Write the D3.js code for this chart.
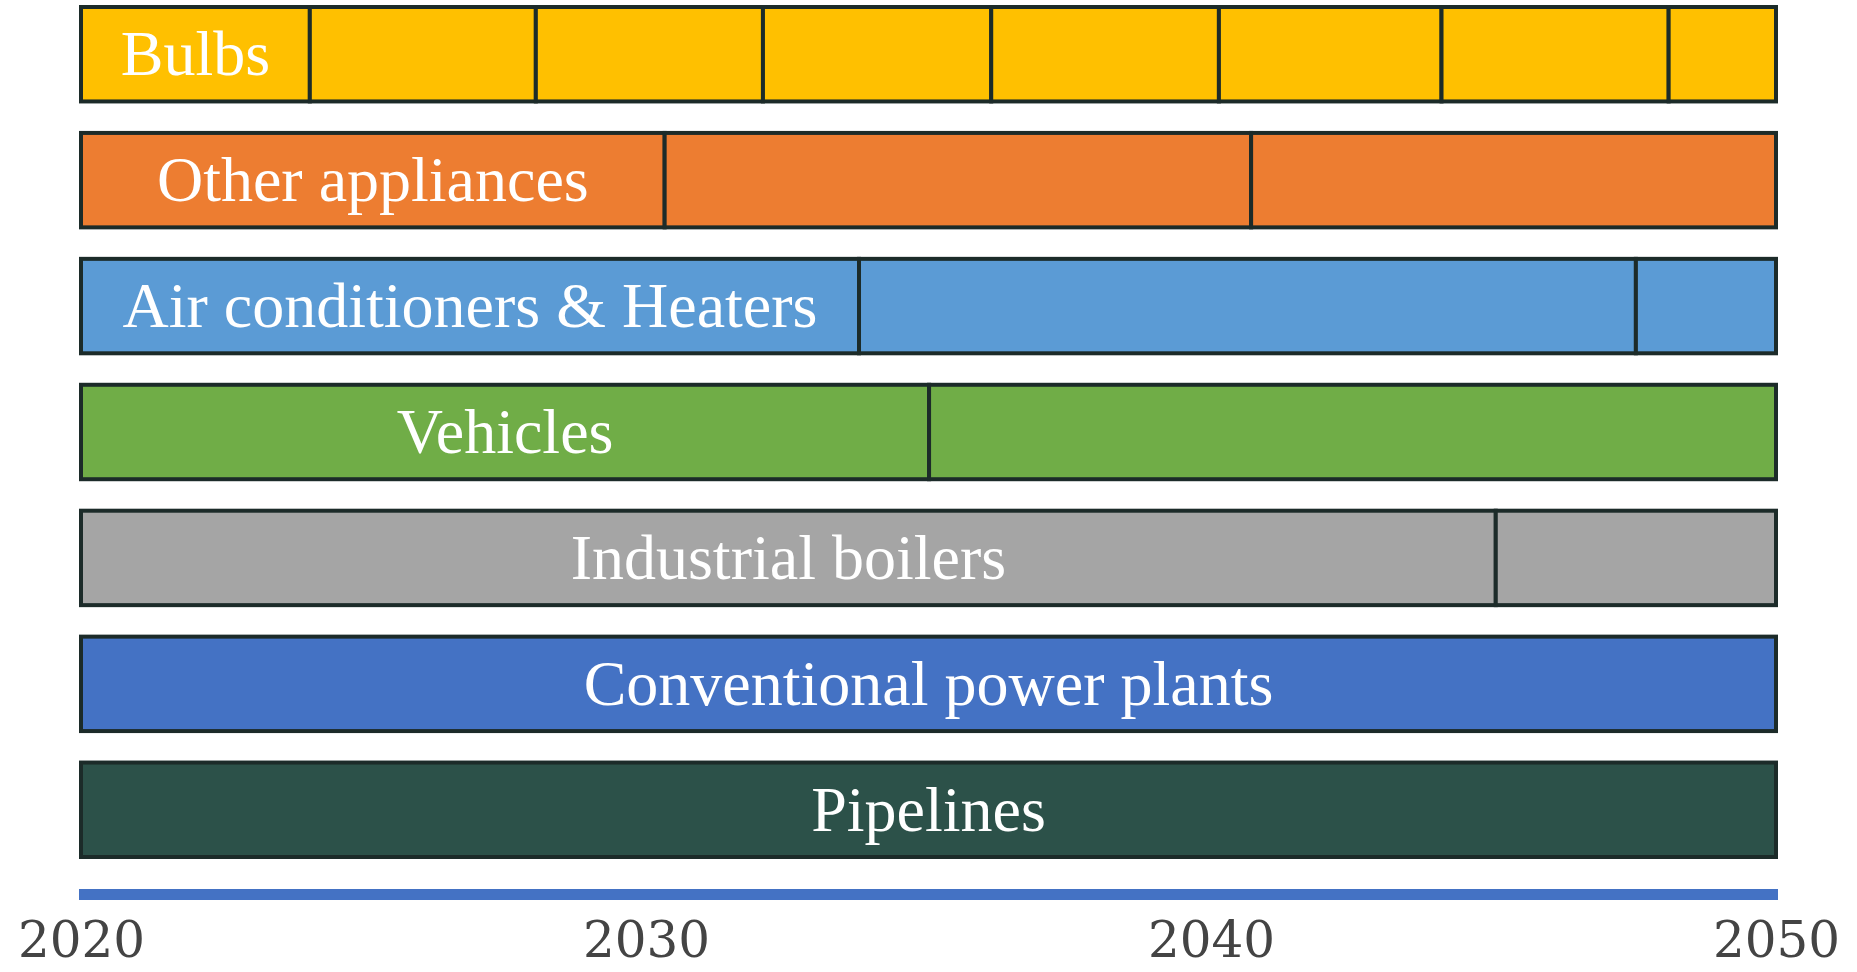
<!DOCTYPE html>
<html>
<head>
<meta charset="utf-8">
<script src="https://cdn.jsdelivr.net/npm/d3@7/dist/d3.min.js"></script>
<style>
  html, body { margin: 0; padding: 0; background: #ffffff; }
  svg { display: block; }
</style>
</head>
<body>
<svg id="chart" width="1857" height="972"></svg>
<script>
// Equipment categories, top to bottom
const categories = [
  "Bulbs",
  "Other appliances",
  "Air conditioners & Heaters",
  "Vehicles",
  "Industrial boilers",
  "Conventional power plants",
  "Pipelines"
];

// Years at which each stock is replaced (segment boundaries inside 2020–2050)
const bulbsReplacements      = [2024.05, 2028.05, 2032.07, 2036.11, 2040.14, 2044.08, 2048.1];
const appliancesReplacements = [2030.33, 2040.71];
const coolingReplacements    = [2033.77, 2047.52];
const vehiclesReplacements   = [2035.01];
const boilersReplacements    = [2045.04];
const powerPlantReplacements = [];
const pipelinesReplacements  = [];

const replacements = [
  bulbsReplacements,
  appliancesReplacements,
  coolingReplacements,
  vehiclesReplacements,
  boilersReplacements,
  powerPlantReplacements,
  pipelinesReplacements
];

// Timeline bounds and tick labels
const startYear = 2020;
const endYear = 2050;
const tickYears = [2020, 2030, 2040, 2050];

const colors = ["#FFC000", "#ED7D31", "#5B9BD5", "#70AD47", "#A5A5A5", "#4472C4", "#2C5149"];

const svg = d3.select("#chart");

const x = d3.scaleLinear().domain([startYear, endYear]).range([81, 1776]);
const y = d3.scaleBand().domain(categories).range([7, 857]).paddingInner(0.25).paddingOuter(0);

const rows = categories.map((name, i) => {
  const bounds = [startYear, ...replacements[i], endYear];
  const segments = d3.pairs(bounds).map(([a, b]) => ({ a, b }));
  return { name, color: colors[i], segments };
});

const rowG = svg.selectAll("g.row")
  .data(rows)
  .join("g")
  .attr("class", "row")
  .attr("transform", d => `translate(0,${y(d.name)})`);

rowG.selectAll("rect")
  .data(d => d.segments.map(s => ({ ...s, color: d.color })))
  .join("rect")
  .attr("x", s => x(s.a))
  .attr("width", s => x(s.b) - x(s.a))
  .attr("y", 0)
  .attr("height", y.bandwidth())
  .attr("fill", s => s.color)
  .attr("stroke", "#1c2b29")
  .attr("stroke-width", 4);

// Label centred in the first segment of each bar
rowG.append("text")
  .attr("x", d => (x(d.segments[0].a) + x(d.segments[0].b)) / 2)
  .attr("y", y.bandwidth() / 2)
  .attr("dy", "0.33em")
  .attr("text-anchor", "middle")
  .attr("fill", "#ffffff")
  .style("font-family", "'Liberation Serif', 'Times New Roman', serif")
  .style("font-size", "64px")
  .text(d => d.name);

// Timeline baseline
svg.append("rect")
  .attr("x", x(startYear) - 2)
  .attr("width", x(endYear) - x(startYear) + 4)
  .attr("y", 889)
  .attr("height", 11)
  .attr("fill", "#4472C4");

// Year labels
const axis = d3.axisBottom(x).tickValues(tickYears).tickFormat(d3.format("d")).tickSize(0).tickPadding(0);
const axisG = svg.append("g").attr("transform", "translate(0,957)").call(axis);
axisG.select(".domain").remove();
axisG.selectAll("text")
  .attr("y", 0)
  .attr("dy", 0)
  .attr("fill", "#444444")
  .style("font-family", "'DejaVu Serif', serif")
  .style("font-size", "50px");
</script>
</body>
</html>
